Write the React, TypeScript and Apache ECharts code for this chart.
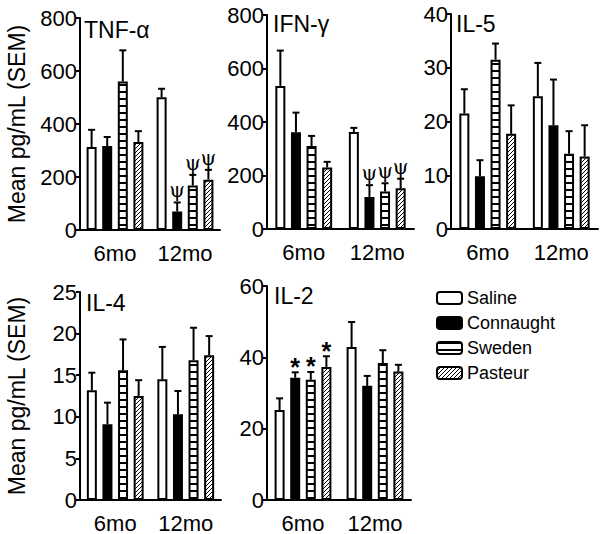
import React, { useEffect, useRef } from 'react';
import * as echarts from 'echarts';

const categories = ['6mo', '12mo'];
const groups = ['Saline', 'Connaught', 'Sweden', 'Pasteur'];
const yAxisTitle = 'Mean pg/mL (SEM)';

// means per group: [6mo, 12mo]
const tnfMean = [[313, 501], [317, 70], [560, 168], [332, 190]];
const tnfSem = [[65, 32], [34, 34], [118, 40], [41, 37]];
const tnfMarks = [['', ''], ['', 'ψ'], ['', 'ψ'], ['', 'ψ']];

const ifnMean = [[535, 363], [362, 120], [310, 140], [230, 152]];
const ifnSem = [[132, 15], [73, 44], [38, 31], [21, 36]];
const ifnMarks = [['', ''], ['', 'ψ'], ['', 'ψ'], ['', 'ψ']];

const il5Mean = [[21.5, 24.7], [9.8, 19.3], [31.5, 14.0], [17.7, 13.5]];
const il5Sem = [[4.5, 6.2], [3.0, 8.5], [3.0, 4.2], [5.3, 5.8]];
const il5Marks = [['', ''], ['', ''], ['', ''], ['', '']];

const il4Mean = [[13.2, 14.5], [9.1, 10.3], [15.6, 16.8], [12.5, 17.4]];
const il4Sem = [[2.1, 3.9], [2.6, 2.8], [3.7, 3.9], [1.9, 2.3]];
const il4Marks = [['', ''], ['', ''], ['', ''], ['', '']];

const il2Mean = [[25.2, 42.9], [34.3, 32.0], [33.7, 38.4], [37.3, 36.0]];
const il2Sem = [[3.3, 7.0], [1.5, 2.8], [2.2, 3.6], [3.0, 1.9]];
const il2Marks = [['', ''], ['*', ''], ['*', ''], ['*', '']];

const FONT = '"Liberation Sans", Arial, Helvetica, sans-serif';
const BAR_W = 10;
const BAR_GAP = 0.56;
const STEP = BAR_W * (1 + BAR_GAP);

function makeStripe(): HTMLCanvasElement {
  const c = document.createElement('canvas');
  c.width = 8; c.height = 7;
  const ctx = c.getContext('2d')!;
  ctx.fillStyle = '#fff'; ctx.fillRect(0, 0, 8, 7);
  ctx.fillStyle = '#000'; ctx.fillRect(0, 0, 8, 2);
  return c;
}
function makeHatch(): HTMLCanvasElement {
  const c = document.createElement('canvas');
  c.width = 4; c.height = 4;
  const ctx = c.getContext('2d')!;
  ctx.fillStyle = '#fff'; ctx.fillRect(0, 0, 4, 4);
  ctx.strokeStyle = '#000'; ctx.lineWidth = 1;
  ctx.beginPath();
  ctx.moveTo(-1, 5); ctx.lineTo(5, -1);
  ctx.moveTo(-1, 1); ctx.lineTo(1, -1);
  ctx.moveTo(3, 5); ctx.lineTo(5, 3);
  ctx.stroke();
  return c;
}

export default function App() {
  const ref = useRef<HTMLDivElement>(null);
  useEffect(() => {
    if (!ref.current) return;
    const chart = echarts.init(ref.current, undefined, { renderer: 'svg' });
    const stripe = makeStripe();
    const hatch = makeHatch();
    const fills: any[] = [
      '#fff',
      '#000',
      { image: stripe, repeat: 'repeat', imageWidth: 8, imageHeight: 7 },
      { image: hatch, repeat: 'repeat', imageWidth: 4, imageHeight: 4 },
    ];

    const panels = [
      { title: 'TNF-α', mean: tnfMean, sem: tnfSem, marks: tnfMarks, max: 800, interval: 200,
        grid: { left: 80, top: 18, width: 140, height: 212 }, tx: 84, ty: 18, yname: true },
      { title: 'IFN-γ', mean: ifnMean, sem: ifnSem, marks: ifnMarks, max: 800, interval: 200,
        grid: { left: 267, top: 15, width: 147, height: 214 }, tx: 273, ty: 12, yname: false },
      { title: 'IL-5', mean: il5Mean, sem: il5Sem, marks: il5Marks, max: 40, interval: 10,
        grid: { left: 451, top: 14, width: 147, height: 215 }, tx: 456, ty: 12, yname: false },
      { title: 'IL-4', mean: il4Mean, sem: il4Sem, marks: il4Marks, max: 25, interval: 5,
        grid: { left: 80, top: 292, width: 141, height: 210 }, tx: 86, ty: 291, yname: true },
      { title: 'IL-2', mean: il2Mean, sem: il2Sem, marks: il2Marks, max: 60, interval: 20,
        grid: { left: 267, top: 286, width: 144, height: 215 }, tx: 274, ty: 284, yname: false },
    ];

    const grids: any[] = [];
    const xAxes: any[] = [];
    const yAxes: any[] = [];
    const series: any[] = [];
    const graphics: any[] = [];

    panels.forEach((p, pi) => {
      grids.push({ ...p.grid });
      xAxes.push({
        type: 'category', gridIndex: pi, data: categories,
        axisLine: { lineStyle: { color: '#000', width: 2 } },
        axisTick: { alignWithLabel: true, length: 6, lineStyle: { color: '#000', width: 2 } },
        axisLabel: { color: '#000', fontSize: 22, fontFamily: FONT, margin: 12, interval: 0, hideOverlap: false },
      });
      yAxes.push({
        type: 'value', gridIndex: pi, min: 0, max: p.max, interval: p.interval,
        axisLine: { show: true, lineStyle: { color: '#000', width: 2 } },
        axisTick: { show: true, length: 4, lineStyle: { color: '#000', width: 2 } },
        axisLabel: { color: '#000', fontSize: 22, fontFamily: FONT, margin: 3 },
        splitLine: { show: false },
        name: p.yname ? yAxisTitle : '',
        nameLocation: 'middle', nameRotate: 90, nameGap: 52,
        nameTextStyle: { color: '#000', fontSize: 23, fontFamily: FONT },
      });
      graphics.push({
        type: 'text', left: p.tx, top: p.ty,
        style: { text: p.title, fontSize: 23, fontFamily: FONT, fill: '#000' },
      });
      groups.forEach((g, gi) => {
        series.push({
          type: 'bar', name: g, xAxisIndex: pi, yAxisIndex: pi,
          barWidth: BAR_W, barGap: `${BAR_GAP * 100}%`,
          data: p.mean[gi],
          itemStyle: { color: fills[gi], borderColor: '#000', borderWidth: 2 },
          z: 2,
        });
      });
      groups.forEach((g, gi) => {
        const sems = p.sem[gi];
        const marks = p.marks[gi];
        series.push({
          type: 'custom', name: 'err-' + g, xAxisIndex: pi, yAxisIndex: pi,
          coordinateSystem: 'cartesian2d', clip: false, z: 3,
          data: p.mean[gi].map((m, ci) => [ci, m, sems[ci]]),
          renderItem: (params: any, api: any) => {
            const ci = api.value(0);
            const m = api.value(1);
            const s = api.value(2);
            const b = api.coord([ci, m]);
            const t = api.coord([ci, m + s]);
            const x = b[0] + (gi - 1.5) * STEP;
            const children: any[] = [
              { type: 'line', shape: { x1: x, y1: b[1], x2: x, y2: t[1] }, style: { stroke: '#000', lineWidth: 2 } },
              { type: 'line', shape: { x1: x - 3.5, y1: t[1], x2: x + 3.5, y2: t[1] }, style: { stroke: '#000', lineWidth: 2 } },
            ];
            const mk = marks[params.dataIndex];
            if (mk) {
              const star = mk === '*';
              children.push({
                type: 'text', x, y: t[1] - (star ? -7 : 2),
                style: {
                  text: mk, fill: '#000000', align: 'center', verticalAlign: 'bottom',
                  fontSize: star ? 25 : 20, fontWeight: star ? 'bold' : 'normal',
                  fontFamily: star ? FONT : '"DejaVu Serif", "Liberation Serif", serif',
                },
              });
            }
            return { type: 'group', children };
          },
        });
      });
    });

    chart.setOption({
      animation: false,
      backgroundColor: '#fff',
      grid: grids,
      xAxis: xAxes,
      yAxis: yAxes,
      series,
      graphic: graphics,
      legend: {
        data: groups, orient: 'vertical', left: 431, top: 284,
        itemWidth: 25, itemHeight: 12, itemGap: 7,
        textStyle: { color: '#000', fontSize: 18, fontFamily: FONT, lineHeight: 18 },
        selectedMode: false,
      },
    });
    return () => chart.dispose();
  }, []);
  return <div ref={ref} style={{ position: 'fixed', left: 0, top: 0, width: 600, height: 534, background: '#fff' }} />;
}
